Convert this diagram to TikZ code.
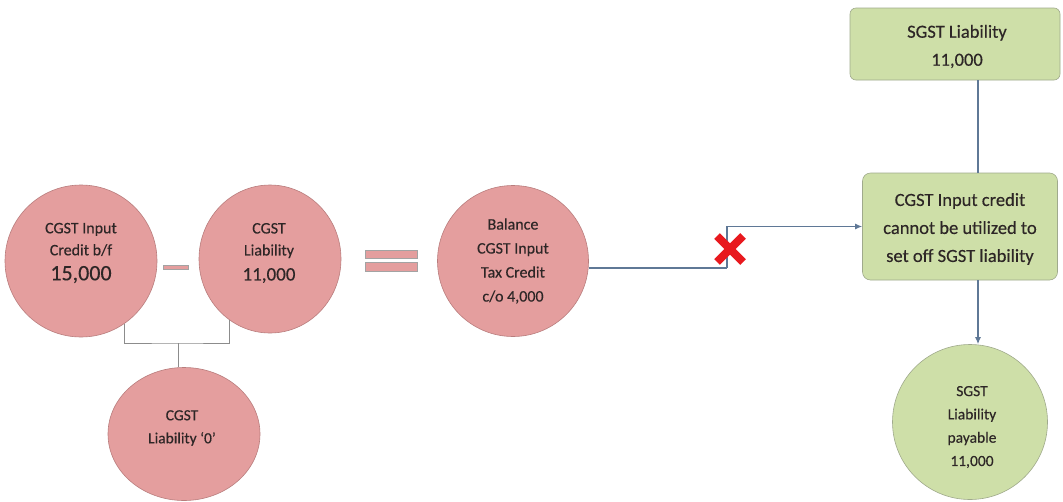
\documentclass[tikz,border=0pt]{standalone}
\usepackage{fontspec}
\setmainfont{Carlito}[FakeBold=0.35]
\usetikzlibrary{arrows.meta,shapes.geometric}
\definecolor{pinkfill}{RGB}{228,158,158}
\definecolor{pinkedge}{RGB}{185,125,125}
\definecolor{greenfill}{RGB}{206,223,168}
\definecolor{greenedge}{RGB}{160,170,140}
\definecolor{txt}{RGB}{45,38,38}
\definecolor{conn}{RGB}{95,120,150}
\definecolor{brk}{RGB}{140,140,140}
\definecolor{xred}{RGB}{232,25,30}
\tikzset{
  pshape/.style={fill=pinkfill,draw=pinkedge,line width=0.6pt,inner sep=0pt},
  gshape/.style={fill=greenfill,draw=greenedge,line width=0.6pt,inner sep=0pt},
  label16/.style={align=center,text=txt,inner sep=0pt,font=\fontsize{16}{22}\selectfont},
  gbox/.style={rectangle,rounded corners=6pt,fill=greenfill,draw=greenedge,line width=0.6pt,inner sep=0pt},
  boxtext/.style={align=center,text=txt,inner sep=0pt,font=\fontsize{18.5}{28}\selectfont},
  bracketline/.style={draw=brk,line width=0.9pt},
  flowline/.style={draw=conn,line width=1.2pt},
  flowarrow/.style={draw=conn,line width=1.2pt,-{Latex[length=7pt,width=6pt]}},
  signbar/.style={fill=pinkfill,draw=brk!80,line width=0.4pt,inner sep=0pt}
}
\begin{document}
\begin{tikzpicture}[x=1pt,y=-1pt]
\useasboundingbox (0,0) rectangle (1063,501);
\fill[white] (0,0) rectangle (1063,501);

% shapes
\node[pshape,circle,minimum size=152pt] (c1) at (81,261) {};
\node[pshape,ellipse,minimum width=142pt,minimum height=148pt] (c2) at (270,259) {};
\node[pshape,ellipse,minimum width=152pt,minimum height=133pt] (c3) at (184,434) {};
\node[pshape,circle,minimum size=151pt] (c4) at (513,261) {};
\node[gshape,circle,minimum size=155pt] (c5) at (970,422) {};

% texts
\node[label16] (t1) at (81,253) {CGST Input\\Credit b/f\\[3pt]{\fontsize{22}{24}\selectfont 15,000}};
\node[label16] (t2) at (269,253) {CGST\\Liability\\[3pt]{\fontsize{19}{21}\selectfont 11,000}};
\node[label16,font=\fontsize{15.5}{23}\selectfont] (t3) at (182,428) {CGST\\Liability `0'};
\node[label16,font=\fontsize{16}{24}\selectfont] (t4) at (513,261) {Balance\\CGST Input\\Tax Credit\\c/o 4,000};
\node[label16,font=\fontsize{15.5}{23.3}\selectfont] (t5) at (972,427) {SGST\\Liability\\payable\\11,000};

\node[gbox,minimum width=210pt,minimum height=72pt] (b1) at (955,44) {};
\node[boxtext] (tb1) at (957,46.5) {SGST Liability\\11,000};
\node[gbox,minimum width=195pt,minimum height=107pt,rounded corners=8pt] (b2) at (960,226.5) {};
\node[boxtext] (tb2) at (960,229) {CGST Input credit\\cannot be utilized to\\set off SGST liability};

% minus and equals signs
\node[signbar,minimum width=25pt,minimum height=4pt] (minus) at (175.5,267) {};
\node[signbar,minimum width=52pt,minimum height=8pt] (eqtop) at (391,254.5) {};
\node[signbar,minimum width=52pt,minimum height=9pt] (eqbot) at (391,267) {};

% bracket joining the two circles
\coordinate (j) at (178,343);
\draw[bracketline] (c1.-55) |- (j) -| (c2.-124);
\draw[bracketline] (j) -- (c3.north -| j);

% balance line to the box
\coordinate (bend) at (727,268);
\draw[flowline] (c4.east |- bend) -- (bend);
\draw[flowarrow] (bend) |- (b2.west);

% red cross
\coordinate (xc) at (730,249);
\draw[xred,line width=8pt] ([shift={(-13,-13)}]xc) -- ([shift={(13,13)}]xc);
\draw[xred,line width=8pt] ([shift={(-13,13)}]xc) -- ([shift={(13,-13)}]xc);

% vertical connectors on the right
\coordinate (vx) at (978,0);
\draw[flowline] (vx |- b1.south) -- (vx |- b2.north);
\draw[flowarrow] (vx |- b2.south) -- (vx |- c5.north);
\end{tikzpicture}
\end{document}
